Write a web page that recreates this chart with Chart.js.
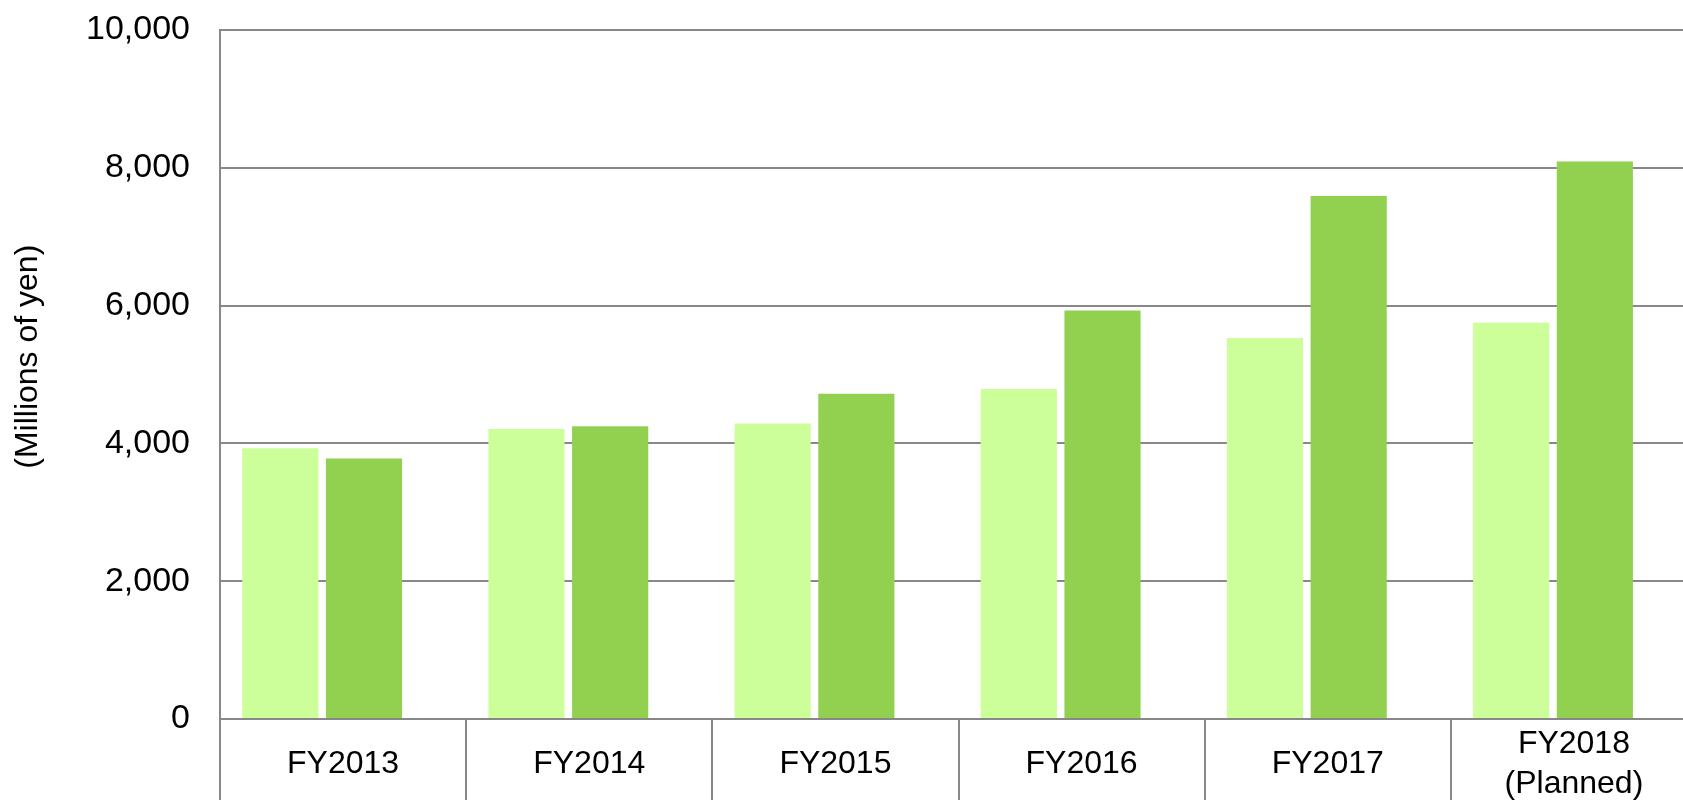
<!DOCTYPE html>
<html>
<head>
<meta charset="utf-8">
<script src="https://cdn.jsdelivr.net/npm/chart.js@4"></script>
<style>
    html, body { margin: 0; padding: 0; background: #fff; overflow: hidden; }
    #wrap { width: 1683px; height: 800px; overflow: hidden; }
</style>
</head>
<body>
<div id="wrap"><canvas id="chart" width="1697" height="800"></canvas></div>
<script>
// ───── DATA ─────
const CATEGORIES = ["FY2013", "FY2014", "FY2015", "FY2016", "FY2017", ["FY2018", "(Planned)"]];
const SERIES_A   = [3930, 4210, 4290, 4790, 5530, 5750];
const SERIES_B   = [3780, 4250, 4720, 5930, 7590, 8090];
const Y_TICKS    = [0, 2000, 4000, 6000, 8000, 10000];

const FONT  = "'Liberation Sans', Arial, sans-serif";
const GRIS  = "#888888";
const SHIFT = 0.085;   // bars sit a bit left of the category centre

const toPts = arr => arr.map((v, i) => ({ x: i, y: v }));

new Chart(document.getElementById("chart").getContext("2d"), {
    type: "bar",
    data: {
        labels: CATEGORIES,
        datasets: [
            { label: "Series 1", data: toPts(SERIES_A), backgroundColor: "#ccff99", xAxisID: "x", categoryPercentage: 0.68, barPercentage: 0.91 },
            { label: "Series 2", data: toPts(SERIES_B), backgroundColor: "#92d050", xAxisID: "x", categoryPercentage: 0.68, barPercentage: 0.91 },
        ]
    },
    options: {
        responsive: false, animation: false,
        layout: { padding: { top: 30, left: 0, right: 0, bottom: 0 } },
        plugins: { legend: { display: false }, tooltip: { enabled: false } },
        scales: {
            x: {
                type: "linear", display: false, bounds: "data", offset: false,
                min: -0.5 + SHIFT, max: CATEGORIES.length - 0.5 + SHIFT,
                afterBuildTicks: s => { s.ticks = CATEGORIES.map((c, i) => ({ value: i })); }
            },
            x2: {
                type: "category", position: "bottom", offset: true,
                grid: { offset: true, drawOnChartArea: false, color: GRIS, lineWidth: 2, tickLength: 81 },
                border: { display: false },
                ticks: { color: "#000", font: { family: FONT, size: 32, lineHeight: 1.25 }, padding: -56, crossAlign: "center", maxRotation: 0, autoSkip: false },
                afterFit: s => { s.height = 81; }
            },
            y: {
                min: 0, max: 10000,
                afterBuildTicks: s => { s.ticks = Y_TICKS.map(v => ({ value: v })); },
                grid: { color: GRIS, lineWidth: 2, drawTicks: false },
                border: { display: true, color: GRIS, width: 2 },
                ticks: { color: "#000", font: { family: FONT, size: 34 }, padding: 30, callback: v => v.toLocaleString("en-US") },
                title: { display: true, text: "    (Millions of yen)", color: "#000", font: { family: FONT, size: 32, lineHeight: 1 }, padding: { top: 12, bottom: 0 } },
                afterFit: s => { s.width = 220; s.paddingTop = 0; s.paddingBottom = 0; }
            }
        }
    }
});
</script>
</body>
</html>
